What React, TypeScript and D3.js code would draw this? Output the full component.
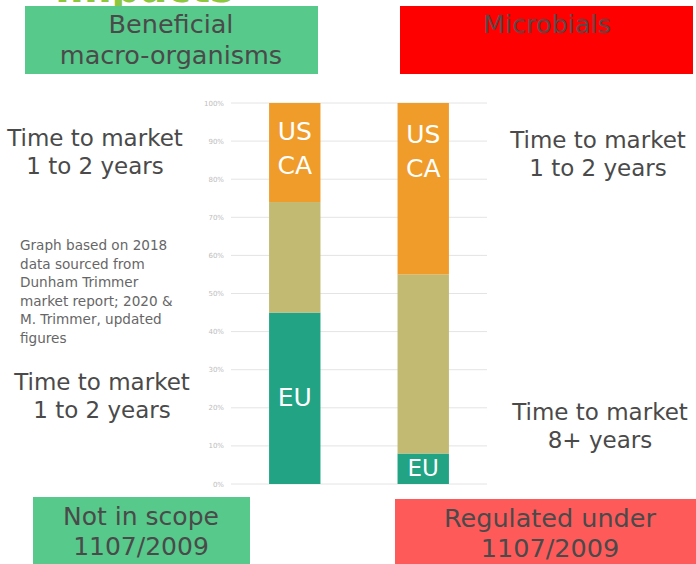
import React from "react";
import * as d3 from "d3";

const categories = ["Beneficial macro-organisms", "Microbials"];
const euValues = [45, 8];
const otherValues = [29, 47];
const usCaValues = [26, 45];
const tickValues = [0, 10, 20, 30, 40, 50, 60, 70, 80, 90, 100];
const seriesKeys = ["eu", "other", "usca"];
const seriesColors: Record<string, string> = { eu: "#21A384", other: "#C2B973", usca: "#F09C2A" };

const FONT = "'DejaVu Sans', sans-serif";

export default function App() {
  const W = 696, H = 564;
  const rows = categories.map((c, i) => ({ cat: c, eu: euValues[i], other: otherValues[i], usca: usCaValues[i] }));
  const stack = d3.stack<any>().keys(seriesKeys)(rows);
  const x = d3.scaleBand().domain(categories).range([192, 526]).paddingInner(0.6).paddingOuter(0.6);
  const y = d3.scaleLinear().domain([0, 100]).range([484, 103]);
  const gridX0 = 231, gridX1 = 487;
  const textColor = "#4a4a4a";

  const multi = (lines: string[], cx: number, cy: number, size: number, lh: number, fill: string, anchor = "middle", weight = "normal") => (
    <text x={cx} fontFamily={FONT} fontSize={size} fill={fill} textAnchor={anchor} fontWeight={weight}>
      {lines.map((l, i) => (
        <tspan key={i} x={cx} y={cy + i * lh}>{l}</tspan>
      ))}
    </text>
  );

  return (
    <svg width={W} height={H} style={{ position: "absolute", left: 0, top: 0, background: "#fff" }}>
      {/* cut-off title */}
      <text x={55} y={2} fontFamily={FONT} fontSize={40} fontWeight="bold" fill="#8DC63F">Impacts</text>

      {/* top boxes */}
      <rect x={25} y={6} width={293} height={68} fill="#57C98A" />
      {multi(["Beneficial", "macro-organisms"], 171, 33, 25.5, 31, textColor)}
      <rect x={400} y={6} width={293} height={68} fill="#FF0000" />
      {multi(["Microbials"], 547, 33, 25.5, 31, "#5a4848")}

      {/* gridlines & ticks */}
      {tickValues.map((t) => (
        <g key={t}>
          <line x1={gridX0} x2={gridX1} y1={y(t)} y2={y(t)} stroke="#e4e4e4" strokeWidth={1} />
          <text x={224} y={y(t) + 2.5} fontFamily={FONT} fontSize={7} fill="#bdbdbd" textAnchor="end">{t}%</text>
        </g>
      ))}

      {/* bars */}
      {stack.map((s) => (
        <g key={s.key}>
          {s.map((d: any, i: number) => (
            <rect key={i} x={x(categories[i])} width={x.bandwidth()} y={y(d[1])} height={y(d[0]) - y(d[1])} fill={seriesColors[s.key]} />
          ))}
        </g>
      ))}

      {/* bar labels */}
      {multi(["US", "CA"], (x(categories[0]) as number) + x.bandwidth() / 2, 140, 25, 34, "#fff")}
      {multi(["EU"], (x(categories[0]) as number) + x.bandwidth() / 2, 406, 25, 34, "#fff")}
      {multi(["US", "CA"], (x(categories[1]) as number) + x.bandwidth() / 2, 143, 25, 34, "#fff")}
      {multi(["EU"], (x(categories[1]) as number) + x.bandwidth() / 2, 476, 23, 34, "#fff")}

      {/* side annotations */}
      {multi(["Time to market", "1 to 2 years"], 95, 146, 23, 28, textColor)}
      {multi(["Time to market", "1 to 2 years"], 598, 148, 23, 28, textColor)}
      {multi(["Time to market", "1 to 2 years"], 102, 390, 23, 28, textColor)}
      {multi(["Time to market", "8+ years"], 600, 420, 23, 28, textColor)}
      {multi(["Graph based on 2018", "data sourced from", "Dunham Trimmer", "market report; 2020 &", "M. Trimmer, updated", "figures"], 20, 250, 13.6, 18.5, "#666", "start")}

      {/* bottom boxes */}
      <rect x={33} y={497} width={217} height={67} fill="#57C98A" />
      {multi(["Not in scope", "1107/2009"], 141, 525, 25, 30, textColor)}
      <rect x={395} y={499} width={301} height={65} fill="#FF5A5A" />
      {multi(["Regulated under", "1107/2009"], 550, 527, 25.5, 30, textColor)}
    </svg>
  );
}
